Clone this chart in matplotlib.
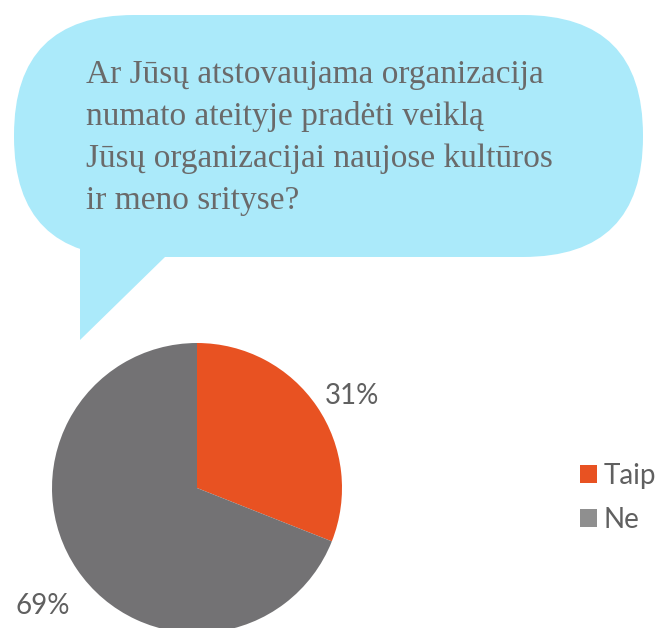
import matplotlib
matplotlib.use("Agg")
import matplotlib.pyplot as plt
from matplotlib.patches import FancyBboxPatch, Polygon, Patch

# data
labels = ["Taip", "Ne"]
shares = [31, 69]
question_lines = [
    "Ar Jūsų atstovaujama organizacija",
    "numato ateityje pradėti veiklą",
    "Jūsų organizacijai naujose kultūros",
    "ir meno srityse?",
]

pie_colors = ["#e85222", "#737274"]
legend_colors = ["#e85222", "#8f8f8f"]
bubble_color = "#abeafa"
text_gray = "#6a6a6a"
label_gray = "#606060"

fig = plt.figure(figsize=(6.55, 6.28), dpi=100)

# background axes in pixel units (y down)
bg = fig.add_axes([0, 0, 1, 1])
bg.set_xlim(0, 655)
bg.set_ylim(628, 0)
bg.axis("off")

bubble = FancyBboxPatch((14, 15), 629, 242,
                        boxstyle="round,pad=0,rounding_size=120",
                        fc=bubble_color, ec="none")
bg.add_patch(bubble)
tail = Polygon([(80, 200), (80, 340), (165, 257), (165, 200)],
               closed=True, fc=bubble_color, ec="none")
bg.add_patch(tail)

for i, line in enumerate(question_lines):
    bg.text(86, 83 + i * 42, line, fontsize=24, family="Liberation Serif",
            color=text_gray, va="baseline", ha="left")

# pie
pax = fig.add_axes([52 / 655, -5 / 628, 290 / 655, 290 / 628])
wedges, _, autotexts = pax.pie(shares, colors=pie_colors, startangle=90,
                               counterclock=False, autopct="%d%%",
                               pctdistance=1.29,
                               textprops=dict(fontsize=20, family="Lato",
                                              color=label_gray, va="top"))
pax.set_xlim(-1, 1)
pax.set_ylim(-1, 1)
pax.set_aspect("equal")

handles = [Patch(fc=c, ec="none") for c in legend_colors]
fig.legend(handles, labels, loc="center left", bbox_to_anchor=(566 / 655, 1 - 498 / 628),
           frameon=False, borderpad=0, handlelength=0.6, handleheight=0.6,
           handletextpad=0.25, labelspacing=0.65,
           prop=dict(family="Lato", size=20), labelcolor=label_gray)

fig.savefig("out.png", dpi=100)
